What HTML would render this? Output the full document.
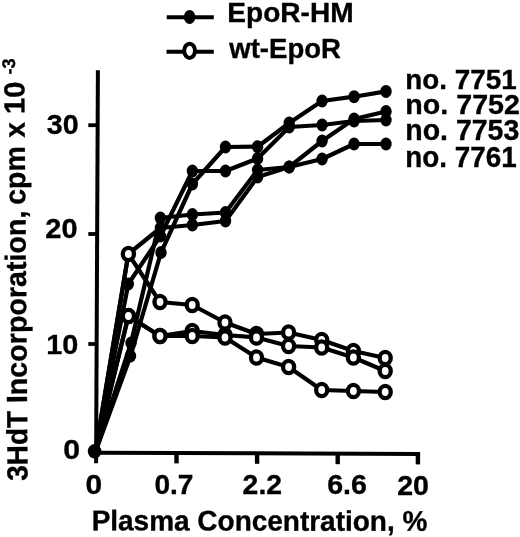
<!DOCTYPE html>
<html><head><meta charset="utf-8"><title>Plasma Concentration</title>
<style>
html,body{margin:0;padding:0;background:#fff;}
svg{display:block;}
text{font-family:"Liberation Sans",Arial,Helvetica,sans-serif;font-weight:bold;fill:#000;stroke:#000;stroke-width:0.35px;}
</style></head><body>
<svg width="520" height="537" viewBox="0 0 520 537">
<rect width="520" height="537" fill="#fff"/>

<g stroke="#000" stroke-width="4" fill="none" stroke-linecap="butt">
<path d="M97.9 70.2 L96.1 463.3"/>
<path d="M94.5 452.7 L420.1 454"/>
<path d="M88.3 125.2 H97.5" stroke-width="3.8"/>
<path d="M88.3 234 H97.5" stroke-width="3.8"/>
<path d="M88.3 344 H97.5" stroke-width="3.8"/>
<path d="M176.5 453 V463.4" stroke-width="4.4"/>
<path d="M257.1 453.4 V463.8" stroke-width="4.4"/>
<path d="M337.7 453.8 V464.2" stroke-width="4.4"/>
<path d="M417.9 454 V464.4" stroke-width="4.4"/>
</g>
<g stroke="#000" stroke-width="4.2" fill="none" stroke-linejoin="round">
<polyline points="95.3,452.3 128.3,284 160.4,236 192.4,171 225.5,171 257.6,158.5 289.2,127 322.1,125 354.1,121 386.0,120"/>
<polyline points="95.3,452.3 130.5,356 161.0,252.5 192.4,184 225.5,147 257.6,146.7 289.2,123 322.1,101 354.1,96.7 386.0,91.4"/>
<polyline points="95.3,452.3 128.3,254 160.4,228 192.4,225 225.5,221 257.6,177 289.2,167 322.1,159 354.1,144 386.0,144"/>
<polyline points="95.3,452.3 131.0,343 160.4,218 192.4,214.5 225.5,212.5 257.6,170 289.2,167 322.1,141 354.1,119 386.0,111.5"/>
<polyline points="95.3,452.3 128.4,254 160.0,302 192.2,305 225.0,322.5 256.5,334 288.6,332.5 321.7,340 353.4,351 385.2,358"/>
<polyline points="95.3,452.3 128.4,316 160.0,336 192.2,331 225.0,335 256.5,337.5 288.6,346 321.7,347.5 353.4,357.5 385.2,371"/>
<polyline points="95.3,452.3 128.4,316 160.0,336 192.2,336 225.0,337.5 256.5,357.5 288.6,367 321.7,390 353.4,391 385.2,392"/>
</g>
<g fill="#000">
<ellipse cx="128.3" cy="284" rx="5.7" ry="6.5"/>
<ellipse cx="160.4" cy="236" rx="5.7" ry="6.5"/>
<ellipse cx="192.4" cy="171" rx="5.7" ry="6.5"/>
<ellipse cx="225.5" cy="171" rx="5.7" ry="6.5"/>
<ellipse cx="257.6" cy="158.5" rx="5.7" ry="6.5"/>
<ellipse cx="289.2" cy="127" rx="5.7" ry="6.5"/>
<ellipse cx="322.1" cy="125" rx="5.7" ry="6.5"/>
<ellipse cx="354.1" cy="121" rx="5.7" ry="6.5"/>
<ellipse cx="386.0" cy="120" rx="5.7" ry="6.5"/>
<ellipse cx="130.5" cy="356" rx="5.7" ry="6.5"/>
<ellipse cx="161.0" cy="252.5" rx="5.7" ry="6.5"/>
<ellipse cx="192.4" cy="184" rx="5.7" ry="6.5"/>
<ellipse cx="225.5" cy="147" rx="5.7" ry="6.5"/>
<ellipse cx="257.6" cy="146.7" rx="5.7" ry="6.5"/>
<ellipse cx="289.2" cy="123" rx="5.7" ry="6.5"/>
<ellipse cx="322.1" cy="101" rx="5.7" ry="6.5"/>
<ellipse cx="354.1" cy="96.7" rx="5.7" ry="6.5"/>
<ellipse cx="386.0" cy="91.4" rx="5.7" ry="6.5"/>
<ellipse cx="128.3" cy="254" rx="5.7" ry="6.5"/>
<ellipse cx="160.4" cy="228" rx="5.7" ry="6.5"/>
<ellipse cx="192.4" cy="225" rx="5.7" ry="6.5"/>
<ellipse cx="225.5" cy="221" rx="5.7" ry="6.5"/>
<ellipse cx="257.6" cy="177" rx="5.7" ry="6.5"/>
<ellipse cx="289.2" cy="167" rx="5.7" ry="6.5"/>
<ellipse cx="322.1" cy="159" rx="5.7" ry="6.5"/>
<ellipse cx="354.1" cy="144" rx="5.7" ry="6.5"/>
<ellipse cx="386.0" cy="144" rx="5.7" ry="6.5"/>
<ellipse cx="131.0" cy="343" rx="5.7" ry="6.5"/>
<ellipse cx="160.4" cy="218" rx="5.7" ry="6.5"/>
<ellipse cx="192.4" cy="214.5" rx="5.7" ry="6.5"/>
<ellipse cx="225.5" cy="212.5" rx="5.7" ry="6.5"/>
<ellipse cx="257.6" cy="170" rx="5.7" ry="6.5"/>
<ellipse cx="289.2" cy="167" rx="5.7" ry="6.5"/>
<ellipse cx="322.1" cy="141" rx="5.7" ry="6.5"/>
<ellipse cx="354.1" cy="119" rx="5.7" ry="6.5"/>
<ellipse cx="386.0" cy="111.5" rx="5.7" ry="6.5"/>
</g>
<g fill="#fff" stroke="#000" stroke-width="4.3">
<ellipse cx="128.4" cy="254" rx="5.55" ry="6.2"/>
<ellipse cx="160.0" cy="302" rx="5.55" ry="6.2"/>
<ellipse cx="192.2" cy="305" rx="5.55" ry="6.2"/>
<ellipse cx="225.0" cy="322.5" rx="5.55" ry="6.2"/>
<ellipse cx="256.5" cy="334" rx="5.55" ry="6.2"/>
<ellipse cx="288.6" cy="332.5" rx="5.55" ry="6.2"/>
<ellipse cx="321.7" cy="340" rx="5.55" ry="6.2"/>
<ellipse cx="353.4" cy="351" rx="5.55" ry="6.2"/>
<ellipse cx="385.2" cy="358" rx="5.55" ry="6.2"/>
<ellipse cx="128.4" cy="316" rx="5.55" ry="6.2"/>
<ellipse cx="160.0" cy="336" rx="5.55" ry="6.2"/>
<ellipse cx="192.2" cy="331" rx="5.55" ry="6.2"/>
<ellipse cx="225.0" cy="335" rx="5.55" ry="6.2"/>
<ellipse cx="256.5" cy="337.5" rx="5.55" ry="6.2"/>
<ellipse cx="288.6" cy="346" rx="5.55" ry="6.2"/>
<ellipse cx="321.7" cy="347.5" rx="5.55" ry="6.2"/>
<ellipse cx="353.4" cy="357.5" rx="5.55" ry="6.2"/>
<ellipse cx="385.2" cy="371" rx="5.55" ry="6.2"/>
<ellipse cx="128.4" cy="316" rx="5.55" ry="6.2"/>
<ellipse cx="160.0" cy="336" rx="5.55" ry="6.2"/>
<ellipse cx="192.2" cy="336" rx="5.55" ry="6.2"/>
<ellipse cx="225.0" cy="337.5" rx="5.55" ry="6.2"/>
<ellipse cx="256.5" cy="357.5" rx="5.55" ry="6.2"/>
<ellipse cx="288.6" cy="367" rx="5.55" ry="6.2"/>
<ellipse cx="321.7" cy="390" rx="5.55" ry="6.2"/>
<ellipse cx="353.4" cy="391" rx="5.55" ry="6.2"/>
<ellipse cx="385.2" cy="392" rx="5.55" ry="6.2"/>
</g>
<ellipse cx="94.6" cy="451.3" rx="6.8" ry="7.3" fill="#000"/>
<g stroke="#000" stroke-width="4"><path d="M166.7 17.2 H213.8"/><path d="M166.5 51.7 H213.8"/></g>
<ellipse cx="189.6" cy="17" rx="5.7" ry="6.9" fill="#000"/>
<ellipse cx="189.6" cy="50.8" rx="5.4" ry="7.1" fill="#fff" stroke="#000" stroke-width="4"/>
<text transform="translate(227.32,22.40) scale(0.9961,1)" font-size="28.20">EpoR-HM</text>
<text transform="translate(229.28,57.80) scale(0.9669,1)" font-size="28.49">wt-EpoR</text>
<text transform="translate(405.36,89.20) scale(0.9873,1)" font-size="28.20">no. 7751</text>
<text transform="translate(405.31,114.10) scale(1.0106,1)" font-size="28.34">no. 7752</text>
<text transform="translate(405.32,140.20) scale(0.9800,1)" font-size="29.07">no. 7753</text>
<text transform="translate(405.36,166.90) scale(0.9674,1)" font-size="28.78">no. 7761</text>
<text transform="translate(46.84,133.89) scale(1.0047,1)" font-size="28.49">30</text>
<text transform="translate(45.29,238.42) scale(1.0302,1)" font-size="28.11">20</text>
<text transform="translate(46.28,353.91) scale(1.0118,1)" font-size="28.53">10</text>
<text transform="translate(63.29,459.01) scale(1.0626,1)" font-size="28.53">0</text>
<text transform="translate(85.50,493.62) scale(1.0854,1)" font-size="27.54">0</text>
<text transform="translate(154.38,493.82) scale(1.0048,1)" font-size="27.97">0.7</text>
<text transform="translate(242.61,494.10) scale(1.0206,1)" font-size="27.79">2.2</text>
<text transform="translate(327.14,494.22) scale(1.0236,1)" font-size="27.97">6.6</text>
<text transform="translate(397.20,494.92) scale(1.0165,1)" font-size="28.11">20</text>
<text transform="translate(91.63,530.30) rotate(0.1) scale(0.9823,1)" font-size="28.49">Plasma Concentration, %</text>
<text transform="translate(27.60,480.84) rotate(-90.44) scale(0.9625,1)" font-size="29.07">3HdT</text>
<text transform="translate(26.96,403.12) rotate(-90.44) scale(0.9864,1)" font-size="29.07">Incorporation,</text>
<text transform="translate(25.35,204.81) rotate(-90.44) scale(0.9819,1)" font-size="29.07">cpm</text>
<text transform="translate(24.80,137.39) rotate(-90.44) scale(0.9538,1)" font-size="29.07">x</text>
<text transform="translate(24.60,113.94) rotate(-90.44) scale(1.0033,1)" font-size="29.07">10</text>
<text transform="translate(15,74.6) rotate(-90.4)" font-size="18.2">-3</text>
</svg></body></html>
